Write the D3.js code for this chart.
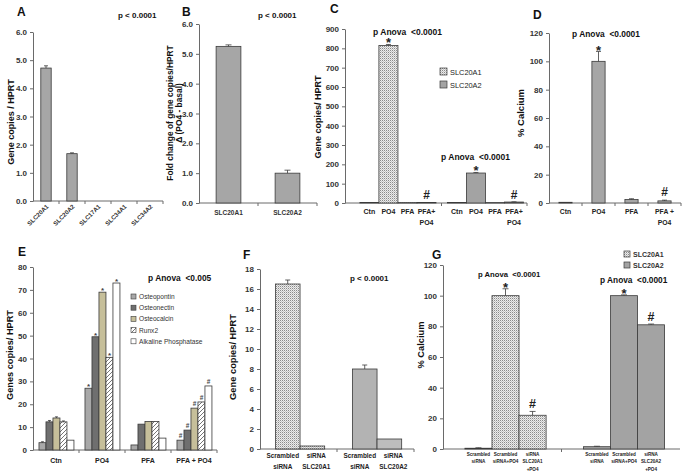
<!DOCTYPE html>
<html><head><meta charset="utf-8">
<script src="https://cdn.jsdelivr.net/npm/d3@7"></script>
<style>body{margin:0;background:#fff} text{font-family:"Liberation Sans",Arial,sans-serif;white-space:pre}</style>
</head><body><svg id="c" width="683" height="475"></svg>
<script>
// ---------------- DATA ----------------
const aGenes = ["SLC20A1","SLC20A2","SLC17A1","SLC34A1","SLC34A2"];
const aValues = [4.72,1.68,0,0,0];
const aErrors = [0.08,0.03,0,0,0];
const aTicks = [0,1,2,3,4,5,6];

const bGenes = ["SLC20A1","SLC20A2"];
const bValues = [5.25,1.0];
const bErrors = [0.05,0.1];
const bTicks = [0,1,2,3,4,5,6];

const cGroups = ["SLC20A1","SLC20A2"];
const cConditions = ["Ctn","PO4","PFA","PFA+|PO4"];
const cSLC20A1 = [3,815,2,3];
const cSLC20A2 = [3,155,2,5];
const cErr1 = [0,5,0,0];
const cErr2 = [0,3,0,1];
const cMarks = ["","*","","#"];
const cTicks = [0,100,200,300,400,500,600,700,800,900];

const dConditions = ["Ctn","PO4","PFA","PFA +|PO4"];
const dValues = [0.5,100,2.5,1.5];
const dErrors = [0,7,0.5,0.5];
const dMarks = ["","*","","#"];
const dTicks = [0,20,40,60,80,100,120];

const eConditions = ["Ctn","PO4","PFA","PFA + PO4"];
const eGenes = ["Osteopontin","Osteonectin","Osteocalcin","Runx2","Alkaline Phosphatase"];
const eOsteopontin = [3.2,27,2.2,4.3];
const eOsteonectin = [12.3,49.5,11.3,8.7];
const eOsteocalcin = [14,69,12.5,18.3];
const eRunx2 = [12.3,40.5,12.5,21];
const eALP = [4.3,73,5.2,28];
const eErrors = [0.4,0.6,0.5,0.4,0.3];
const eMarks = ["","*","","#"];
const eTicks = [0,10,20,30,40,50,60,70,80];

const fLabels = ["Scrambled|siRNA","siRNA|SLC20A1","Scrambled|siRNA","siRNA|SLC20A2"];
const fGroups = ["SLC20A1","SLC20A2"];
const fValues = [16.5,0.3,8.0,1.0];
const fErrors = [0.4,0,0.4,0];
const fTicks = [0,2,4,6,8,10,12,14,16,18];

const gGroups = ["SLC20A1","SLC20A2"];
const gLabels1 = ["Scrambled|siRNA","Scrambled|siRNA+PO4","siRNA|SLC20A1|+PO4"];
const gLabels2 = ["Scrambled|siRNA","Scrambled|siRNA+PO4","siRNA|SLC20A2|+PO4"];
const gSLC20A1 = [0.5,100,22];
const gSLC20A2 = [1.5,100,81];
const gErr1 = [0.3,4.5,2.5];
const gErr2 = [0.3,0.5,0.5];
const gMarks = ["","*","#"];
const gTicks = [0,20,40,60,80,100,120];

// ---------------- DRAWING ----------------
const svg = d3.select("#c");
const defs = svg.append("defs");
const dot = defs.append("pattern").attr("id","dots").attr("width",2).attr("height",2).attr("patternUnits","userSpaceOnUse");
dot.append("rect").attr("width",2).attr("height",2).attr("fill","#ececec");
dot.append("rect").attr("width",1).attr("height",1).attr("fill","#8a8a8a");
dot.append("rect").attr("x",1).attr("y",1).attr("width",1).attr("height",1).attr("fill","#c4c4c4");
const hat = defs.append("pattern").attr("id","hatch").attr("width",4).attr("height",4).attr("patternUnits","userSpaceOnUse");
hat.append("rect").attr("width",4).attr("height",4).attr("fill","#fff");
hat.append("path").attr("d","M-1,1 l2,-2 M0,4 l4,-4 M3,5 l2,-2").attr("stroke","#666").attr("stroke-width",0.9);

const AX = "#6a6a6a", STK = "#3a3a3a";
const PAN = "p Anova\u00a0 <0.0001";

function panel(c){
  const y = d3.scaleLinear().domain([0,c.max]).range([c.y0,c.y1]);
  const g = svg.append("g");
  const ga = g.append("g").attr("transform",`translate(${c.x0},0)`)
    .call(d3.axisLeft(y).tickValues(c.ticks).tickSize(3).tickSizeOuter(0).tickPadding(3));
  ga.select(".domain").attr("stroke",AX);
  ga.selectAll(".tick line").attr("stroke",AX);
  ga.selectAll("text").attr("font-size",c.tfs||8).attr("font-weight","bold").attr("fill","#333");
  g.append("line").attr("x1",c.x0).attr("x2",c.x1).attr("y1",c.y0).attr("y2",c.y0).attr("stroke",AX);
  if(c.xt) c.xt.forEach(px=>g.append("line").attr("x1",px).attr("x2",px).attr("y1",c.y0).attr("y2",c.y0+3).attr("stroke",AX));
  return {y,g};
}
function bar(g,x,w,y,v,fill){
  g.append("rect").attr("x",x).attr("y",y(v)).attr("width",w).attr("height",Math.max(0,y(0)-y(v)))
   .attr("fill",fill).attr("stroke",STK).attr("stroke-width",0.8);
}
function err(g,cx,y,v,e,cap){
  if(!e) return;
  g.append("line").attr("x1",cx).attr("x2",cx).attr("y1",y(v)).attr("y2",y(v+e)).attr("stroke",STK).attr("stroke-width",0.8);
  g.append("line").attr("x1",cx-cap).attr("x2",cx+cap).attr("y1",y(v+e)).attr("y2",y(v+e)).attr("stroke",STK).attr("stroke-width",0.8);
}
function mtext(g,x,y,str,fs,lh,opts={}){
  const t = g.append("text").attr("x",x).attr("y",y).attr("text-anchor",opts.anchor||"middle")
    .attr("font-size",fs).attr("font-weight",opts.weight||"bold").attr("fill",opts.fill||"#222");
  str.split("|").forEach((s,i)=>t.append("tspan").attr("x",x).attr("dy",i?lh:0).text(s));
  return t;
}
function ytitle(x,y,str,fs,lh){
  const t = svg.append("text").attr("transform",`translate(${x},${y}) rotate(-90)`).attr("text-anchor","middle")
    .attr("font-size",fs).attr("font-weight","bold").attr("fill","#111");
  str.split("|").forEach((s,i)=>t.append("tspan").attr("x",0).attr("dy",i?lh:"0.35em").text(s));
}
function label(x,y,s,fs,w){ svg.append("text").attr("x",x).attr("y",y).attr("font-size",fs).attr("font-weight",w||"bold").attr("fill","#111").text(s); }

// ---- Panel A ----
{
  const L={x0:33,x1:163,y0:201,y1:32};
  const x = d3.scaleBand().domain(aGenes).range([L.x0,L.x1]);
  const P = panel({...L,max:6,ticks:aTicks,xt:aGenes.slice(1).map(d=>x(d)).concat([L.x1])});
  const bw = x.bandwidth()*0.4;
  aGenes.forEach((d,i)=>{
    const cx = x(d)+x.bandwidth()/2;
    if(aValues[i]>0){ bar(P.g,cx-bw/2,bw,P.y,aValues[i],"#a6a6a6"); err(P.g,cx,P.y,aValues[i],aErrors[i],2); }
    P.g.append("text").attr("transform",`translate(${cx+3},${L.y0+6}) rotate(-45)`).attr("text-anchor","end")
      .attr("font-size",6.2).attr("font-weight","bold").attr("fill","#333").text(d);
  });
  label(17,16,"A",12);
  label(118,18,"p < 0.0001",8);
  ytitle(11,122,"Gene copies / HPRT",9);
}
// ---- Panel B ----
{
  const L={x0:199,x1:317,y0:203,y1:24};
  const x = d3.scaleBand().domain(bGenes).range([L.x0,L.x1]);
  const P = panel({...L,max:6,ticks:bTicks,xt:[x(bGenes[1]),L.x1]});
  const bw = x.bandwidth()*0.42;
  bGenes.forEach((d,i)=>{
    const cx = x(d)+x.bandwidth()/2;
    bar(P.g,cx-bw/2,bw,P.y,bValues[i],"#a6a6a6"); err(P.g,cx,P.y,bValues[i],bErrors[i],3);
    mtext(P.g,cx,L.y0+12,d,6.5,0,{fill:"#333"});
  });
  label(182,16,"B",12);
  label(258,18,"p < 0.0001",8);
  ytitle(170,113,"Fold change of gene copies/HPRT|Δ (PO4 - basal)",8.4,9.5);
}
// ---- Panel C ----
{
  const L={x0:345,x1:527,y0:203,y1:29};
  const xo = d3.scaleBand().domain(cGroups).range([352,527]);
  const xi = d3.scaleBand().domain(cConditions).range([xo.bandwidth()*0.09,xo.bandwidth()*0.96]);
  const P = panel({...L,max:900,ticks:cTicks,xt:[xo(cGroups[1])+2,L.x1]});
  const series=[cSLC20A1,cSLC20A2], errs=[cErr1,cErr2], fills=["url(#dots)","#a3a3a3"];
  cGroups.forEach((gname,gi)=>{
    cConditions.forEach((c,i)=>{
      const x0 = xo(gname)+xi(c), bw = xi.bandwidth(), cx=x0+bw/2, v=series[gi][i];
      bar(P.g,x0,bw,P.y,v,fills[gi]); err(P.g,cx,P.y,v,errs[gi][i],2.5);
      mtext(P.g,cx,L.y0+11,c,7,11);
      if(cMarks[i]) P.g.append("text").attr("x",cx).attr("y",P.y(v+errs[gi][i])-(cMarks[i]=="*"?-3:3)).attr("text-anchor","middle")
        .attr("font-size",cMarks[i]=="*"?13:12).attr("font-weight","bold").attr("fill","#222").text(cMarks[i]);
    });
  });
  cGroups.forEach((gname,gi)=>{
    P.g.append("rect").attr("x",440).attr("y",68+gi*13).attr("width",7).attr("height",7).attr("fill",fills[gi]).attr("stroke",STK).attr("stroke-width",0.7);
    P.g.append("text").attr("x",450).attr("y",74.5+gi*13).attr("font-size",7.4).attr("fill","#222").text(gname);
  });
  label(330,13,"C",12);
  label(373,35,PAN,8.5);
  label(441,160,PAN,8.5);
  ytitle(318,117,"Gene copies/ HPRT",9);
}
// ---- Panel D ----
{
  const L={x0:549,x1:681,y0:203,y1:33};
  const x = d3.scaleBand().domain(dConditions).range([L.x0,L.x1]);
  const P = panel({...L,max:120,ticks:dTicks,xt:dConditions.slice(1).map(d=>x(d)).concat([L.x1])});
  const bw = x.bandwidth()*0.4;
  dConditions.forEach((d,i)=>{
    const cx = x(d)+x.bandwidth()/2, v=dValues[i];
    bar(P.g,cx-bw/2,bw,P.y,v,"#a6a6a6"); err(P.g,cx,P.y,v,dErrors[i],2.5);
    mtext(P.g,cx,L.y0+11,d,6.8,11);
    if(dMarks[i]) P.g.append("text").attr("x",cx).attr("y",P.y(v+dErrors[i])-(dMarks[i]=="*"?-4:4)).attr("text-anchor","middle")
      .attr("font-size",dMarks[i]=="*"?13:12).attr("font-weight","bold").attr("fill","#222").text(dMarks[i]);
  });
  label(533,19,"D",12);
  label(572,37,PAN,8.4);
  ytitle(521,113,"% Calcium",9.5);
}
// ---- Panel E ----
{
  const L={x0:33,x1:217,y0:450,y1:267};
  const xo = d3.scaleBand().domain(eConditions).range([L.x0,L.x1]);
  const xi = d3.scaleBand().domain(eGenes).range([xo.bandwidth()*0.13,xo.bandwidth()*0.89]);
  const P = panel({...L,max:80,ticks:eTicks,xt:eConditions.slice(1).map(d=>xo(d)).concat([L.x1])});
  const series=[eOsteopontin,eOsteonectin,eOsteocalcin,eRunx2,eALP];
  const fills=["#a8a8a8","#6f6f6f","#c6bf9a","url(#hatch)","#ffffff"];
  eConditions.forEach((c,ci)=>{
    eGenes.forEach((gname,gi)=>{
      const x0 = xo(c)+xi(gname), bw=xi.bandwidth(), cx=x0+bw/2, v=series[gi][ci];
      bar(P.g,x0,bw,P.y,v,fills[gi]);
      if(ci===0 && gi<4) err(P.g,cx,P.y,v,eErrors[gi],1.5);
      if(eMarks[ci]) P.g.append("text").attr("x",cx).attr("y",P.y(v)-(eMarks[ci]=="*"?-1:2)).attr("text-anchor","middle")
        .attr("font-size",eMarks[ci]=="*"?8:6.5).attr("font-weight","bold").attr("fill","#444").text(eMarks[ci]);
    });
    mtext(P.g,xo(c)+xo.bandwidth()/2,L.y0+13,c,7,0);
  });
  eGenes.forEach((gname,gi)=>{
    P.g.append("rect").attr("x",131).attr("y",294+gi*11.2).attr("width",5).attr("height",5).attr("fill",fills[gi]).attr("stroke",STK).attr("stroke-width",0.6);
    P.g.append("text").attr("x",139).attr("y",299+gi*11.2).attr("font-size",6.6).attr("fill","#333").text(gname);
  });
  label(18,256,"E",12);
  label(148,281,"p Anova\u00a0 <0.005",8.4);
  ytitle(10,355,"Genes copies/ HPRT",9.2);
}
// ---- Panel F ----
{
  const L={x0:260,x1:414,y0:449,y1:269};
  const xo = d3.scaleBand().domain(fGroups).range([L.x0,L.x1]);
  const xi = d3.scaleBand().domain([0,1]).range([xo.bandwidth()*0.2,xo.bandwidth()*0.84]);
  const P = panel({...L,max:18,ticks:fTicks,xt:[xo(fGroups[1]),L.x1]});
  const fills=[["url(#dots)","url(#dots)"],["#b3b3b3","#bdbdbd"]];
  const shift=[-5,4];
  fGroups.forEach((gname,gi)=>{
    [0,1].forEach(k=>{
      const i=gi*2+k, x0=xo(gname)+xi(k), bw=xi.bandwidth(), cx=x0+bw/2, v=fValues[i];
      bar(P.g,x0,bw,P.y,v,fills[gi][k]); err(P.g,cx,P.y,v,fErrors[i],2.5);
      mtext(P.g,cx+shift[k],L.y0+9,fLabels[i],6.4,11);
    });
  });
  label(243,259,"F",12);
  label(350,281,"p < 0.0001",8);
  ytitle(233,357,"Gene copies/ HPRT",9.3);
}
// ---- Panel G ----
{
  const L={x0:443,x1:680,y0:449,y1:265};
  const xo = d3.scaleBand().domain(gGroups).range([L.x0,L.x1]);
  const xi = d3.scaleBand().domain([0,1,2]).range([xo.bandwidth()*0.185,xo.bandwidth()*0.87]);
  const P = panel({...L,max:120,ticks:gTicks,xt:[xo(gGroups[1])]});
  const series=[gSLC20A1,gSLC20A2], errs=[gErr1,gErr2], labs=[gLabels1,gLabels2], fills=["url(#dots)","#a3a3a3"];
  gGroups.forEach((gname,gi)=>{
    [0,1,2].forEach(k=>{
      const x0=xo(gname)+xi(k), bw=xi.bandwidth(), cx=x0+bw/2, v=series[gi][k], e=errs[gi][k];
      bar(P.g,x0,bw,P.y,v,fills[gi]); err(P.g,cx,P.y,v,e,3);
      mtext(P.g,cx,L.y0+7,labs[gi][k],4.6,7.3);
      if(gMarks[k]) P.g.append("text").attr("x",cx).attr("y",P.y(v+e)-(gMarks[k]=="*"?-3:3)).attr("text-anchor","middle")
        .attr("font-size",gMarks[k]=="*"?13:12.5).attr("font-weight","bold").attr("fill","#222").text(gMarks[k]);
    });
  });
  gGroups.forEach((gname,gi)=>{
    P.g.append("rect").attr("x",624).attr("y",251+gi*11).attr("width",6).attr("height",6).attr("fill",fills[gi]).attr("stroke",STK).attr("stroke-width",0.7);
    P.g.append("text").attr("x",633).attr("y",257+gi*11).attr("font-size",7).attr("font-weight","bold").attr("fill","#333").text(gname);
  });
  label(432,259,"G",12);
  label(478,277,PAN,7.7);
  label(600,283,PAN,8.3);
  ytitle(421,345,"% Calcium",9.3);
}
</script></body></html>
